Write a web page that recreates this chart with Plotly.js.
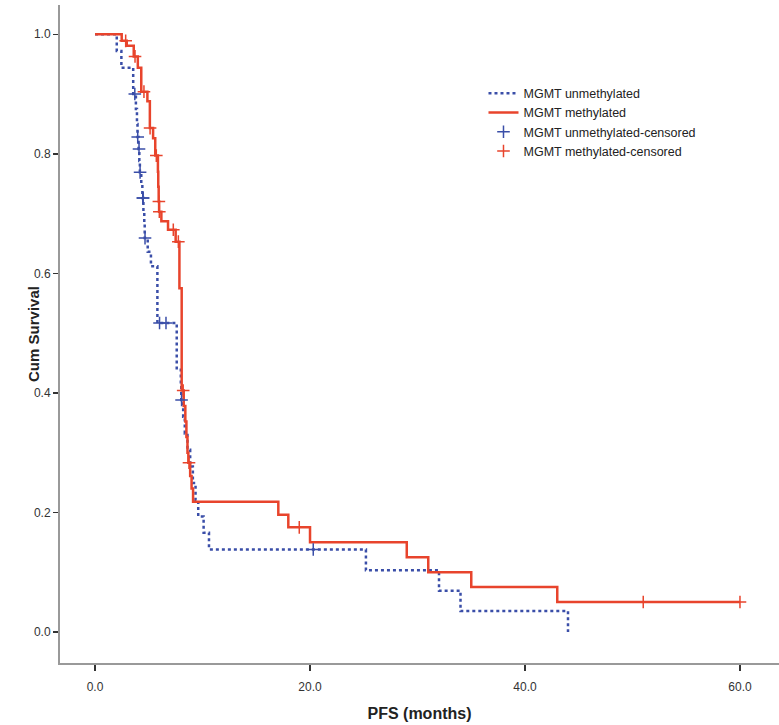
<!DOCTYPE html>
<html>
<head>
<meta charset="utf-8">
<script src="https://cdn.plot.ly/plotly-3.0.1.min.js"></script>
<style>
  html, body { margin: 0; padding: 0; background: #fff; }
  #chart { width: 779px; height: 725px; }
</style>
</head>
<body>
<div id="chart"></div>
<script>
// ---- Data (PFS in months, cumulative survival) ----
const unmethTimes = [0, 2.02, 2.45, 3.55, 3.8, 3.9, 3.95, 4.05, 4.12, 4.17, 4.3, 4.4, 4.5, 4.58, 4.62, 4.9, 5.2, 5.8, 7.6, 7.98, 8.02, 8.2, 8.35, 8.6, 8.85, 9.1, 9.35, 9.6, 10.1, 10.6, 25.2, 32.0, 34.0, 44.0];
const unmethSurv  = [1.0, 0.972, 0.944, 0.90, 0.875, 0.85, 0.828, 0.808, 0.788, 0.769, 0.748, 0.726, 0.704, 0.682, 0.659, 0.636, 0.612, 0.517, 0.441, 0.414, 0.388, 0.360, 0.332, 0.305, 0.277, 0.249, 0.221, 0.193, 0.166, 0.138, 0.103, 0.069, 0.035, 0.0];
const unmethCensorTimes = [3.7, 3.97, 4.09, 4.19, 4.44, 4.48, 4.65, 6.0, 6.6, 8.05, 20.3];

const methTimes = [0, 2.48, 2.95, 3.6, 3.98, 4.3, 4.87, 5.1, 5.4, 5.6, 5.85, 5.88, 5.92, 5.96, 6.17, 6.79, 7.5, 7.85, 8.06, 8.25, 8.4, 8.5, 8.6, 8.68, 8.85, 8.98, 9.12, 17.05, 17.98, 20.0, 29.0, 31.0, 35.0, 43.0];
const methSurv  = [1.0, 0.989, 0.981, 0.963, 0.944, 0.904, 0.888, 0.843, 0.826, 0.797, 0.770, 0.745, 0.720, 0.703, 0.687, 0.673, 0.653, 0.575, 0.404, 0.378, 0.352, 0.326, 0.300, 0.283, 0.261, 0.240, 0.218, 0.196, 0.175, 0.150, 0.125, 0.100, 0.075, 0.050];
const methCensorTimes = [2.85, 3.72, 4.55, 5.12, 5.7, 5.94, 5.98, 7.28, 7.75, 8.2, 8.74, 19.0, 51.0, 60.0];

const seriesNames = ["MGMT unmethylated", "MGMT methylated", "MGMT unmethylated-censored", "MGMT methylated-censored"];
const xTickValues = [0, 20, 40, 60];
const yTickValues = [0, 0.2, 0.4, 0.6, 0.8, 1.0];
const xTitle = "PFS (months)";
const yTitle = "Cum Survival";

// ---- helpers ----
function survAt(times, surv, t) {
  let v = surv[0];
  for (let i = 0; i < times.length; i++) { if (times[i] <= t) v = surv[i]; }
  return v;
}
function extendLine(times, surv, censors) {
  const xs = times.slice(), ys = surv.slice();
  const lastC = Math.max.apply(null, censors);
  if (lastC > xs[xs.length - 1]) { xs.push(lastC); ys.push(ys[ys.length - 1]); }
  return [xs, ys];
}

const blue = "rgb(58,78,168)";
const red = "rgb(232,68,44)";

const [ux, uy] = extendLine(unmethTimes, unmethSurv, unmethCensorTimes);
const [mx, my] = extendLine(methTimes, methSurv, methCensorTimes);

const traces = [
  { x: ux, y: uy, mode: "lines", name: seriesNames[0],
    line: { shape: "hv", color: blue, width: 2.5, dash: "3px,3px" } },
  { x: mx, y: my, mode: "lines", name: seriesNames[1],
    line: { shape: "hv", color: red, width: 2.5 } },
  { x: unmethCensorTimes, y: unmethCensorTimes.map(t => survAt(unmethTimes, unmethSurv, t)),
    mode: "markers", name: seriesNames[2],
    marker: { symbol: "cross-thin", size: 9, color: blue, line: { color: blue, width: 1.5 } } },
  { x: methCensorTimes, y: methCensorTimes.map(t => survAt(methTimes, methSurv, t)),
    mode: "markers", name: seriesNames[3],
    marker: { symbol: "cross-thin", size: 9, color: red, line: { color: red, width: 1.5 } } }
];

const layout = {
  width: 779, height: 725,
  margin: { l: 60, r: 0, t: 5, b: 62 },
  paper_bgcolor: "#fff", plot_bgcolor: "#fff",
  font: { family: "Liberation Sans, Arial, sans-serif", color: "#222" },
  showlegend: true,
  legend: {
    x: 0.589, y: 0.888, xanchor: "left", yanchor: "top",
    bgcolor: "rgba(0,0,0,0)", font: { size: 12.5, color: "#222" },
    tracegroupgap: 0
  },
  xaxis: {
    range: [-3.26, 63.63], showgrid: false, zeroline: false,
    showline: true, linecolor: "#999", linewidth: 2,
    ticks: "outside", ticklen: 6, tickwidth: 1.5, tickcolor: "#333",
    tickvals: xTickValues, tickformat: ".1f", ticklabelstandoff: 6,
    tickfont: { size: 12, color: "#333" },
    title: { text: xTitle, font: { size: 16, weight: "bold", color: "#222" }, standoff: 14 }
  },
  yaxis: {
    range: [-0.052, 1.049], showgrid: false, zeroline: false,
    showline: true, linecolor: "#999", linewidth: 2,
    ticks: "outside", ticklen: 5, tickwidth: 1.5, tickcolor: "#333",
    tickvals: yTickValues, tickformat: ".1f",
    tickfont: { size: 12, color: "#333" }
  },
  annotations: [{
    text: yTitle, xref: "paper", yref: "paper",
    x: -0.0376, y: 0.50, xanchor: "center", yanchor: "middle",
    textangle: -90, showarrow: false,
    font: { size: 15, weight: "bold", color: "#222" }
  }]
};

Plotly.newPlot("chart", traces, layout, { displayModeBar: false, staticPlot: true });
</script>
</body>
</html>
